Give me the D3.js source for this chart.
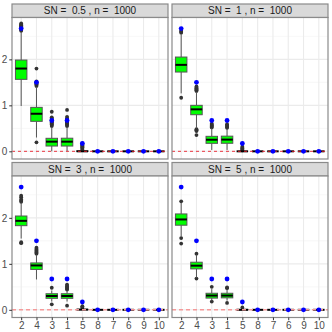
<!DOCTYPE html>
<html>
<head>
<meta charset="utf-8">
<script src="https://cdn.jsdelivr.net/npm/d3@7"></script>
<style>
  body { margin: 0; background: #fff; }
  text { font-family: "Liberation Sans", Arial, sans-serif; }
</style>
</head>
<body>
<div id="chart"></div>
<script>
// categories along x (component order)
var categories = ["2", "4", "3", "1", "5", "8", "7", "6", "9", "10"];
var panelTitles = ["SN =  0.5 , n =  1000", "SN =  1 , n =  1000",
                   "SN =  3 , n =  1000", "SN =  5 , n =  1000"];
var yTicks = [0, 1, 2];

// true values (blue points), same in every panel
var truth = [2.67, 1.5, 0.67, 0.67, 0.17, 0, 0, 0, 0, 0];

// box stats per panel, one value per category
var q1 = [
  [1.565, 0.652, 0.115, 0.115, 0, 0, 0, 0, 0, 0],
  [1.724, 0.796, 0.174, 0.175, 0, 0, 0, 0, 0, 0],
  [1.83, 0.878, 0.25, 0.25, 0, 0, 0, 0, 0, 0],
  [1.84, 0.89, 0.255, 0.26, 0, 0, 0, 0, 0, 0]
];
var med = [
  [1.80, 0.817, 0.21, 0.21, 0, 0, 0, 0, 0, 0],
  [1.88, 0.913, 0.252, 0.255, 0, 0, 0, 0, 0, 0],
  [1.935, 0.965, 0.30, 0.30, 0.005, 0, 0, 0, 0, 0],
  [1.965, 0.96, 0.31, 0.31, 0, 0, 0, 0, 0, 0]
];
var q3 = [
  [1.985, 0.956, 0.283, 0.285, 0.01, 0, 0, 0, 0, 0],
  [2.05, 1.0, 0.326, 0.33, 0, 0, 0, 0, 0, 0],
  [2.04, 1.02, 0.35, 0.35, 0.01, 0, 0, 0, 0, 0],
  [2.085, 1.035, 0.36, 0.36, 0.01, 0, 0, 0, 0, 0]
];
var whiskLo = [
  [0.985, 0.30, 0.0, 0.0, 0, 0, 0, 0, 0, 0],
  [1.26, 0.50, 0.03, 0.03, 0, 0, 0, 0, 0, 0],
  [1.55, 0.66, 0.18, 0.18, 0, 0, 0, 0, 0, 0],
  [1.59, 0.70, 0.20, 0.20, 0, 0, 0, 0, 0, 0]
];
var whiskHi = [
  [2.60, 1.40, 0.53, 0.53, 0.02, 0, 0, 0, 0, 0],
  [2.55, 1.29, 0.50, 0.49, 0, 0, 0, 0, 0, 0],
  [2.33, 1.20, 0.42, 0.42, 0.02, 0, 0, 0, 0, 0],
  [2.33, 1.20, 0.45, 0.44, 0.02, 0, 0, 0, 0, 0]
];
var outliers = [
  [[2.62, 2.64, 2.66, 2.68, 2.70, 2.72, 2.74, 2.76, 2.78],
   [1.42, 1.44, 1.46, 1.48, 1.50, 1.52, 1.80, 0.196],
   [0.55, 0.57, 0.59, 0.61, 0.63, 0.65, 0.67, 0.69, 0.71, 0.74, 0.86],
   [0.55, 0.57, 0.59, 0.61, 0.63, 0.65, 0.67, 0.69, 0.72, 0.75, 0.90],
   [0.03, 0.05, 0.07, 0.09, 0.11, 0.13, 0.15, 0.17],
   [], [], [], [], []],
  [[2.58, 2.60, 2.62, 1.165],
   [1.31, 1.33, 1.35, 1.37, 1.39, 1.41, 0.48, 0.46, 0.44, 0.354],
   [0.52, 0.54, 0.56, 0.58, 0.60],
   [0.51, 0.53, 0.55, 0.57, 0.59],
   [0.02, 0.04, 0.06, 0.08, 0.10],
   [], [], [], [], []],
  [[2.35, 2.37, 2.40, 2.45, 2.48, 1.47, 1.45],
   [1.22, 1.24, 1.26, 1.28, 1.30, 1.32, 1.35],
   [0.48, 0.12],
   [0.44, 0.46, 0.48, 0.50, 0.52, 0.55, 0.09],
   [0.04, 0.06, 0.08],
   [], [], [], [], []],
  [[2.36, 1.56, 1.44],
   [1.22, 0.68],
   [0.50, 0.18],
   [0.47, 0.49, 0.15],
   [0.05],
   [], [], [], [], []]
];

// layout
var W = 332, H = 332;
var panelX = [12, 172], panelW = 156;
var stripY = [4, 162.5], stripH = 13.5, panelH = 141.5;

var svg = d3.select("#chart").append("svg").attr("width", W).attr("height", H);

var x = d3.scalePoint().domain(categories).range([0, panelW]).padding(0.6);
var y = d3.scaleLinear().domain([-0.167, 2.91]).range([panelH, 0]);
var boxW = x.step() * 0.75;

panelTitles.forEach(function(title, p) {
  var col = p % 2, row = Math.floor(p / 2);
  var px = panelX[col], sy = stripY[row], py = sy + stripH;

  // strip
  var strip = svg.append("g").attr("transform", "translate(" + px + "," + sy + ")");
  strip.append("rect").attr("width", panelW).attr("height", stripH)
    .attr("fill", "#d9d9d9").attr("stroke", "#8a8a8a").attr("stroke-width", 1.2);
  strip.append("text").attr("x", panelW / 2).attr("y", stripH / 2).attr("dy", "0.36em")
    .attr("text-anchor", "middle").attr("font-size", "10px").attr("fill", "#1a1a1a")
    .style("white-space", "pre")
    .text(title);

  var g = svg.append("g").attr("transform", "translate(" + px + "," + py + ")");
  g.append("rect").attr("width", panelW).attr("height", panelH).attr("fill", "#fff");

  // grid: minor then major
  g.selectAll("line.minor").data([0.5, 1.5, 2.5]).enter().append("line")
    .attr("x1", 0).attr("x2", panelW).attr("y1", y).attr("y2", y)
    .attr("stroke", "#f2f2f2").attr("stroke-width", 0.6);
  g.selectAll("line.majory").data(yTicks).enter().append("line")
    .attr("x1", 0).attr("x2", panelW).attr("y1", y).attr("y2", y)
    .attr("stroke", "#ebebeb").attr("stroke-width", 1.1);
  g.selectAll("line.majorx").data(categories).enter().append("line")
    .attr("x1", x).attr("x2", x).attr("y1", 0).attr("y2", panelH)
    .attr("stroke", "#ebebeb").attr("stroke-width", 1.1);

  // boxplots
  categories.forEach(function(c, i) {
    var cx = x(c);
    var bg = g.append("g");
    bg.selectAll("circle").data(outliers[p][i]).enter().append("circle")
      .attr("cx", cx).attr("cy", y).attr("r", 1.9).attr("fill", "#333");
    bg.append("line").attr("x1", cx).attr("x2", cx)
      .attr("y1", y(q3[p][i])).attr("y2", y(whiskHi[p][i]))
      .attr("stroke", "#555").attr("stroke-width", 1);
    bg.append("line").attr("x1", cx).attr("x2", cx)
      .attr("y1", y(q1[p][i])).attr("y2", y(whiskLo[p][i]))
      .attr("stroke", "#555").attr("stroke-width", 1);
    bg.append("rect").attr("x", cx - boxW / 2).attr("width", boxW)
      .attr("y", y(q3[p][i])).attr("height", y(q1[p][i]) - y(q3[p][i]))
      .attr("fill", "#00ff00").attr("stroke", "#555").attr("stroke-width", 1);
    bg.append("line").attr("x1", cx - boxW / 2).attr("x2", cx + boxW / 2)
      .attr("y1", y(med[p][i])).attr("y2", y(med[p][i]))
      .attr("stroke", "#000").attr("stroke-width", 2);
  });

  // reference line at 0
  g.append("line").attr("x1", 0).attr("x2", panelW).attr("y1", y(0)).attr("y2", y(0))
    .attr("stroke", row === 0 ? "#e8202a" : "#f59a9a")
    .attr("stroke-width", row === 0 ? 0.9 : 1.6)
    .attr("stroke-dasharray", row === 0 ? "3,3" : "4,3");

  // true values
  g.selectAll("circle.truth").data(truth).enter().append("circle")
    .attr("class", "truth")
    .attr("cx", function(d, i) { return x(categories[i]); })
    .attr("cy", y).attr("r", 2.4).attr("fill", "#0000ff");

  // border
  g.append("rect").attr("width", panelW).attr("height", panelH)
    .attr("fill", "none").attr("stroke", "#8a8a8a").attr("stroke-width", 1.2);

  // axes
  if (col === 0) {
    var ya = g.append("g").call(d3.axisLeft(y).tickValues(yTicks)
      .tickFormat(d3.format("d")).tickSize(2.75).tickPadding(2));
    ya.select(".domain").remove();
    ya.selectAll("line").attr("stroke", "#333");
    ya.selectAll("text").attr("font-size", "10px").attr("fill", "#4d4d4d")
      .attr("font-family", "Liberation Sans, Arial, sans-serif");
  }
  if (row === 1) {
    var xa = g.append("g").attr("transform", "translate(0," + panelH + ")")
      .call(d3.axisBottom(x).tickSize(2.75).tickPadding(1.5));
    xa.select(".domain").remove();
    xa.selectAll("line").attr("stroke", "#333");
    xa.selectAll("text").attr("font-size", "10px").attr("fill", "#4d4d4d")
      .attr("font-family", "Liberation Sans, Arial, sans-serif");
  }
});
</script>
</body>
</html>
